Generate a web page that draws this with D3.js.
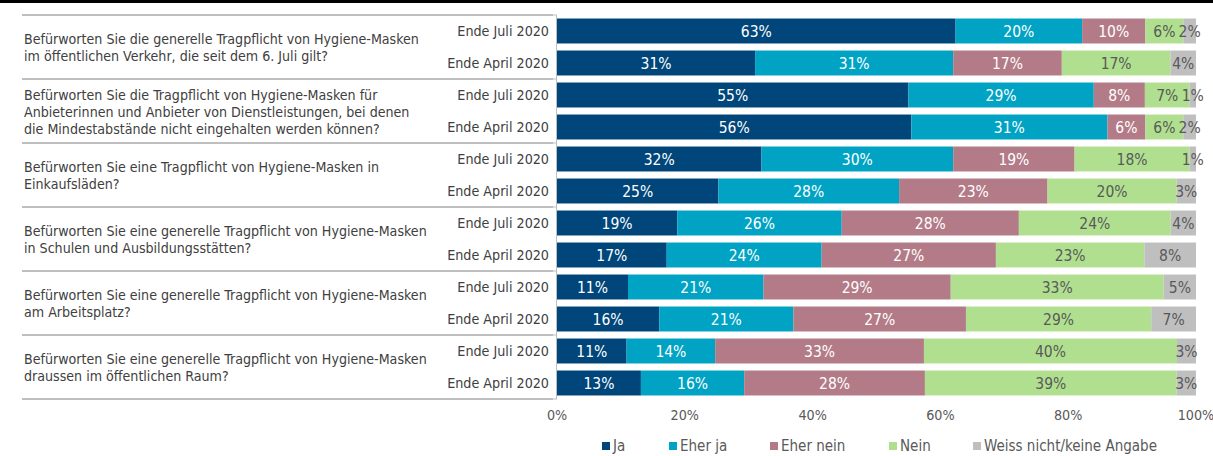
<html>
<head>
<meta charset="utf-8">
<script src="https://cdnjs.cloudflare.com/ajax/libs/d3/7.8.5/d3.min.js"></script>
<style>
  body { margin: 0; background: #fff; }
  text { font-family: Tahoma, "DejaVu Sans Condensed", "Liberation Sans", Arial, sans-serif; }
</style>
</head>
<body>
<script>
var questions = [
    ["Befürworten Sie die generelle Tragpflicht von Hygiene-Masken", "im öffentlichen Verkehr, die seit dem 6. Juli gilt?"],
    ["Befürworten Sie die Tragpflicht von Hygiene-Masken für", "Anbieterinnen und Anbieter von Dienstleistungen, bei denen", "die Mindestabstände nicht eingehalten werden können?"],
    ["Befürworten Sie eine Tragpflicht von Hygiene-Masken in", "Einkaufsläden?"],
    ["Befürworten Sie eine generelle Tragpflicht von Hygiene-Masken", "in Schulen und Ausbildungsstätten?"],
    ["Befürworten Sie eine generelle Tragpflicht von Hygiene-Masken", "am Arbeitsplatz?"],
    ["Befürworten Sie eine generelle Tragpflicht von Hygiene-Masken", "draussen im öffentlichen Raum?"]
];
var periods = ["Ende Juli 2020", "Ende April 2020"];
var answers = ["Ja", "Eher ja", "Eher nein", "Nein", "Weiss nicht/keine Angabe"];
var colors = ["#00467a", "#00a3c4", "#b37b87", "#b0e08f", "#bfbfbf"];
var labelColors = ["#fff", "#fff", "#fff", "#595959", "#595959"];

// one row per question and period, values in percent (Ja, Eher ja, Eher nein, Nein, Weiss nicht)
var values = [
    [63, 20, 10, 6, 2],
    [31, 31, 17, 17, 4],
    [55, 29, 8, 7, 1],
    [56, 31, 6, 6, 2],
    [32, 30, 19, 18, 1],
    [25, 28, 23, 20, 3],
    [19, 26, 28, 24, 4],
    [17, 24, 27, 23, 8],
    [11, 21, 29, 33, 5],
    [16, 21, 27, 29, 7],
    [11, 14, 33, 40, 3],
    [13, 16, 28, 39, 3]
];
var ticks = [0, 20, 40, 60, 80, 100];

var W = 1213, H = 456;
var svg = d3.select('body').append('svg').attr('width', W).attr('height', H);

// thick black rule at the top
svg.append('rect').attr('x', 0).attr('y', 0).attr('width', W).attr('height', 3).attr('fill', '#000');

var rowIds = d3.range(values.length);
var y = d3.scaleBand().domain(rowIds).range([15, 399]).paddingInner(0.22).paddingOuter(0.11);
var x = d3.scaleLinear().domain([0, 100]).range([557, 1196]);

// group separators
var groupY = d3.range(questions.length + 1).map(function (i) { return 15 + i * 2 * y.step(); });
svg.selectAll('.sep').data(groupY).enter().append('line')
    .attr('x1', 22).attr('x2', 553)
    .attr('y1', function (d) { return d; }).attr('y2', function (d) { return d; })
    .attr('stroke', '#bfbfbf').attr('stroke-width', 2);

// vertical axis + ticks
svg.append('line').attr('x1', 556.5).attr('x2', 556.5).attr('y1', 15).attr('y2', 399)
    .attr('stroke', '#bfbfbf').attr('stroke-width', 1);
svg.selectAll('.vt').data(groupY).enter().append('line')
    .attr('x1', 551).attr('x2', 557)
    .attr('y1', function (d) { return d; }).attr('y2', function (d) { return d; })
    .attr('stroke', '#bfbfbf').attr('stroke-width', 1);

// question text
questions.forEach(function (lines, qi) {
    var mid = 15 + (qi * 2 + 1) * y.step() + 1;
    var start = mid - (lines.length - 1) * 17 / 2;
    lines.forEach(function (l, li) {
        svg.append('text').attr('x', 24).attr('y', start + li * 17)
            .attr('dy', '0.35em').attr('font-size', 14.1).attr('fill', '#404040').text(l);
    });
});

// period labels
rowIds.forEach(function (r) {
    svg.append('text').attr('x', 549).attr('y', y(r) + y.bandwidth() / 2)
        .attr('dy', '0.35em').attr('text-anchor', 'end').attr('font-size', 14.2)
        .attr('fill', '#404040').text(periods[r % 2]);
});

// bars
rowIds.forEach(function (r) {
    var v = values[r];
    var total = d3.sum(v);
    var acc = 0;
    var g = svg.append('g');
    v.forEach(function (val, k) {
        var x0 = x(acc / total * 100);
        acc += val;
        var x1 = x(acc / total * 100);
        g.append('rect').attr('x', x0).attr('y', y(r)).attr('width', x1 - x0)
            .attr('height', y.bandwidth()).attr('fill', colors[k]);
        g.append('text').attr('x', (x0 + x1) / 2).attr('y', y(r) + y.bandwidth() / 2)
            .attr('dy', '0.36em').attr('text-anchor', 'middle').attr('font-size', 15.5)
            .attr('fill', labelColors[k]).text(val + '%');
    });
});

// x axis labels
svg.selectAll('.xt').data(ticks).enter().append('text')
    .attr('x', function (d) { return x(d); }).attr('y', 415)
    .attr('dy', '0.35em').attr('text-anchor', 'middle').attr('font-size', 14.2)
    .attr('fill', '#595959').text(function (d) { return d + '%'; });

// legend
var legendX = [602, 669, 770, 889, 973];
var leg = svg.selectAll('.leg').data(answers).enter().append('g')
    .attr('transform', function (d, i) { return 'translate(' + legendX[i] + ',446)'; });
leg.append('rect').attr('x', 0).attr('y', -4).attr('width', 8).attr('height', 8)
    .attr('fill', function (d, i) { return colors[i]; });
leg.append('text').attr('x', 11).attr('y', 0).attr('dy', '0.35em').attr('font-size', 15)
    .attr('fill', '#595959').text(function (d) { return d; });
</script>
</body>
</html>
